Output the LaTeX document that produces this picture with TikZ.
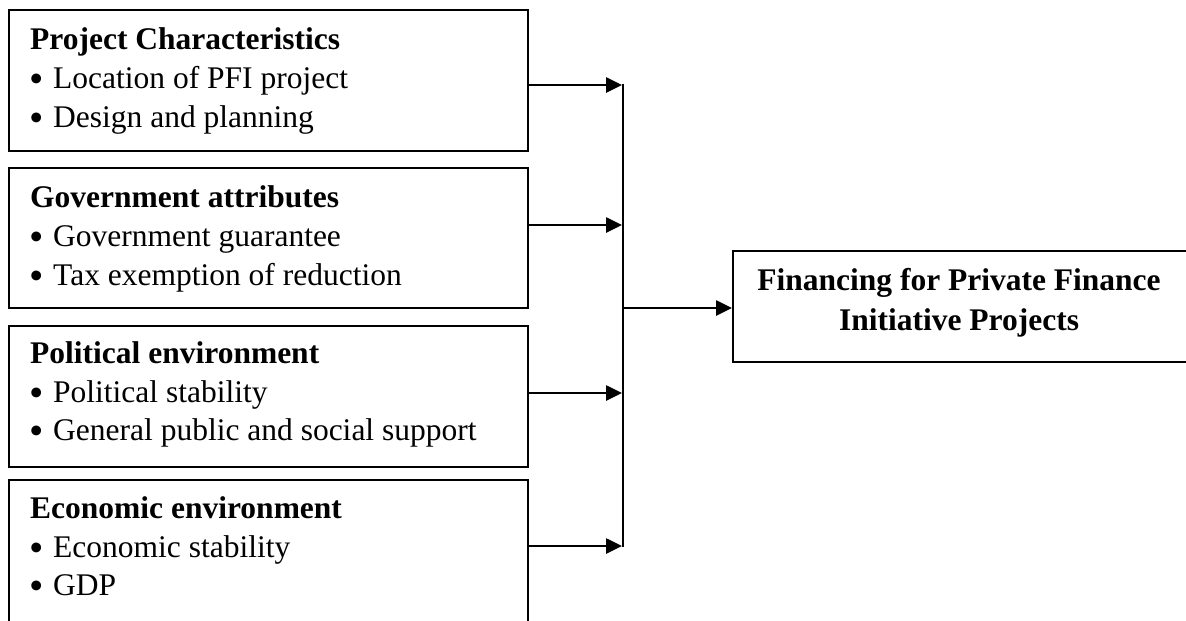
\documentclass[tikz,border=0pt]{standalone}
\usepackage{fontspec}
\setmainfont{Liberation Serif}
\usetikzlibrary{arrows.meta}
\newcommand{\bitem}[1]{\makebox[24pt][l]{\raisebox{-0.13em}{\scalebox{1.3}{•}}}#1}
\begin{document}
\begin{tikzpicture}[x=1pt,y=-1pt,
  boxline/.style={draw=black,line width=2.4pt},
  txt/.style={anchor=base west,inner sep=0pt,font=\fontsize{31.5}{38}\selectfont},
  ttl/.style={txt,font=\fontsize{31.5}{38}\selectfont\bfseries},
  arr/.style={line width=2.6pt,-{Triangle[length=16pt,width=15pt]}},
  busline/.style={line width=2.6pt}]
\useasboundingbox (0,0) rectangle (1186,621);
% left boxes
\node[boxline,minimum width=519pt,minimum height=141pt,inner sep=0pt,anchor=north west] (b1) at (8,9) {};
\node[boxline,minimum width=519pt,minimum height=140pt,inner sep=0pt,anchor=north west] (b2) at (8,167) {};
\node[boxline,minimum width=519pt,minimum height=141pt,inner sep=0pt,anchor=north west] (b3) at (8,325) {};
\node[boxline,minimum width=519pt,minimum height=155pt,inner sep=0pt,anchor=north west] (b4) at (8,479) {};
% texts
\node[ttl] (t1) at (30,49) {Project Characteristics};
\node[txt] (t1a) at (29,88) {\bitem{Location of PFI project}};
\node[txt] (t1b) at (29,127) {\bitem{Design and planning}};
\node[ttl] (t2) at (30,207) {Government attributes};
\node[txt] (t2a) at (29,246) {\bitem{Government guarantee}};
\node[txt] (t2b) at (29,285) {\bitem{Tax exemption of reduction}};
\node[ttl] (t3) at (30,363) {Political environment};
\node[txt] (t3a) at (29,402) {\bitem{Political stability}};
\node[txt] (t3b) at (29,440) {\bitem{General public and social support}};
\node[ttl] (t4) at (30,518) {Economic environment};
\node[txt] (t4a) at (29,557) {\bitem{Economic stability}};
\node[txt] (t4b) at (29,595) {\bitem{GDP}};
% right box
\node[boxline,minimum width=457pt,minimum height=111pt,inner sep=0pt,anchor=north west] (r) at (732,250) {};
\node[ttl,anchor=base] (rt1) at (959,290) {Financing for Private Finance};
\node[ttl,anchor=base] (rt2) at (959,330) {Initiative Projects};
% bus
\coordinate (j1) at (623,85);
\coordinate (j2) at (623,225);
\coordinate (j3) at (623,393);
\coordinate (j4) at (623,546);
\coordinate (jm) at (623,308);
\draw[busline] ([yshift=1.3pt]j1) -- ([yshift=-1.3pt]j4);
\draw[arr] (b1.east |- j1) -- ([xshift=-1pt]j1);
\draw[arr] (b2.east |- j2) -- ([xshift=-1pt]j2);
\draw[arr] (b3.east |- j3) -- ([xshift=-1pt]j3);
\draw[arr] (b4.east |- j4) -- ([xshift=-1pt]j4);
\draw[arr] (jm) -- (r.west |- jm);
\end{tikzpicture}
\end{document}
